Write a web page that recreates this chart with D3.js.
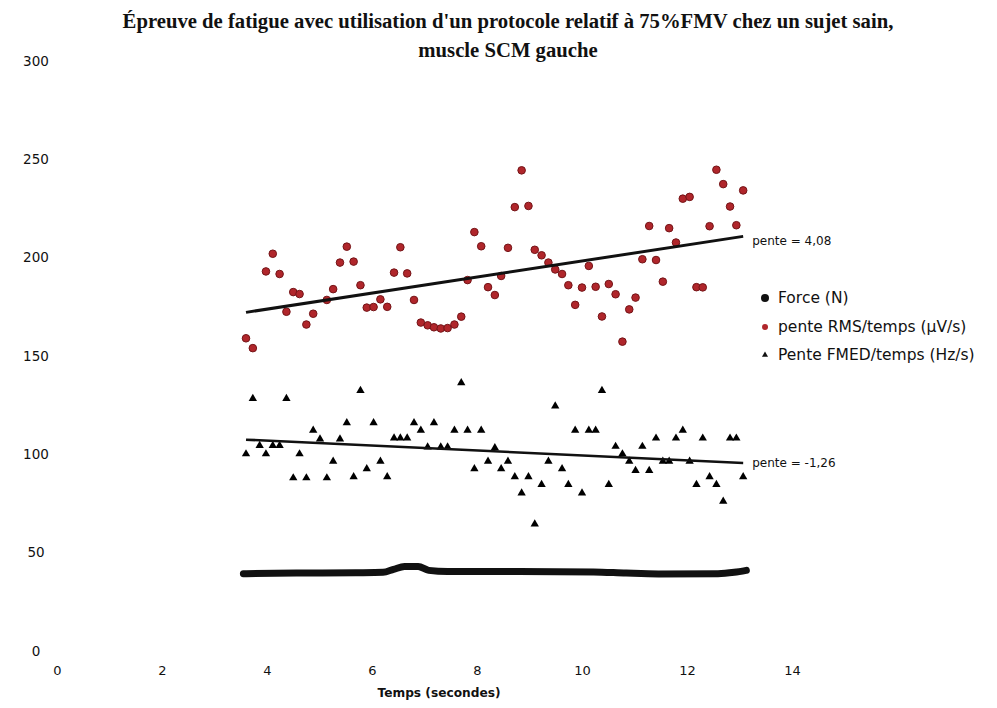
<!DOCTYPE html>
<html>
<head>
<meta charset="utf-8">
<script src="https://cdn.jsdelivr.net/npm/d3@7"></script>
<style>
  body { margin: 0; background: #fff; }
  text { font-family: "DejaVu Sans", Arial, sans-serif; fill: #111; }
</style>
</head>
<body>
<script>
// chart size, same as the picture
var width = 997
var height = 708

// time stamps (s), shared by the two slope series
var temps = [3.60, 3.73, 3.86, 3.98, 4.11, 4.24, 4.37, 4.50, 4.62, 4.75,
             4.88, 5.01, 5.14, 5.26, 5.39, 5.52, 5.65, 5.78, 5.90, 6.03,
             6.16, 6.29, 6.42, 6.54, 6.67, 6.80, 6.93, 7.06, 7.18, 7.31,
             7.44, 7.57, 7.70, 7.82, 7.95, 8.08, 8.21, 8.34, 8.46, 8.59,
             8.72, 8.85, 8.98, 9.10, 9.23, 9.36, 9.49, 9.62, 9.74, 9.87,
             10.00, 10.13, 10.26, 10.38, 10.51, 10.64, 10.77, 10.90, 11.02, 11.15,
             11.28, 11.41, 11.54, 11.66, 11.79, 11.92, 12.05, 12.18, 12.30, 12.43,
             12.56, 12.69, 12.82, 12.94, 13.07]

// pente RMS/temps (µV/s) - null where no dot is visible
var penteRMS = [159, 154, null, 193, 202, 191.7, 172.5, 182.5, 181.5, 166,
                171.5, null, 178.5, 184, 197.5, 205.6, 198, 186, 174.6, 174.9,
                178.8, 175, 192.4, 205.3, 192, 178.5, 167, 165.6, 164.6, 164,
                164.2, 166, 170, 188.6, 213, 205.8, 185, 181, 190.7, 205,
                225.7, 244.4, 226.3, 204, 201.2, 197.5, 194, 191.7, 186, 176,
                184.8, 195.8, 185.2, 170.1, 186.6, 181.4, 157.3, 173.7, 179.7, 199.2,
                216.1, 198.8, 187.8, 215, 207.7, 230, 230.9, 185, 184.9, 216,
                244.7, 237.4, 226, 216.5, 234.2]

// Pente FMED/temps (Hz/s)
var penteFMED = [100.2, 128.4, 104.4, 100.2, 104.4, 104.4, 128.4, 88, 100.2, 88,
                 112.2, 107.8, 88, 96.4, 107.8, 116, 88.6, 132.4, 92.6, 116,
                 96.4, 88.6, 108.3, 108.3, 108.3, 116, 112.2, 103.7, 116, 103.7,
                 103.7, 112.2, 136.4, 112.2, 92.6, 112.2, 96.4, 103.3, 92.6, 96.4,
                 88.6, 80.3, 88.6, 64.5, 84.6, 96.4, 124.5, 92.6, 84.6, 112.2,
                 80.3, 112.2, 112.2, 132.4, 84.6, 104, 100.2, 96.4, 91.7, 104,
                 91.7, 108.2, 96.4, 96.4, 108.2, 112.2, 96.4, 84.6, 108.2, 88.6,
                 84.6, 76.1, 108.2, 108.2, 88.6]

// Force (N): the dots are so dense they read as a thick line
var forceTemps = [3.55, 4.56, 5.69, 6.21, 6.41, 6.62, 6.88, 7.08, 7.44, 8.68, 10.22, 10.84, 11.46, 12.59, 12.9, 13.13]
var forceN     = [39.3, 39.6, 39.8, 40.0, 41.5, 43.0, 43.0, 41.0, 40.4, 40.4, 40.2, 39.6, 39.2, 39.3, 40.0, 41.0]

// linear trendlines
var trendPente = [4.08, -1.26]
var trendOrigine = [157.5, 112.0]
var trendLabels = ["pente = 4,08", "pente = -1,26"]

var xTicks = [0, 2, 4, 6, 8, 10, 12, 14]
var yTicks = [0, 50, 100, 150, 200, 250, 300]
var legendLabels = ["Force (N)", "pente RMS/temps (\u00b5V/s)", "Pente FMED/temps (Hz/s)"]

var svg = d3.select("body")
    .append("svg")
    .attr("width", width)
    .attr("height", height)

var x = d3.scaleLinear().domain([0, 14]).range([57, 792])
var y = d3.scaleLinear().domain([0, 300]).range([651, 61])

// title, two lines
var title = svg.append("text")
    .attr("text-anchor", "middle")
    .style("font-family", "'Liberation Serif', 'Times New Roman', serif")
    .style("font-weight", "bold")
    .style("font-size", "20.7px")
title.append("tspan").attr("x", 508).attr("y", 28)
    .text("\u00c9preuve de fatigue avec utilisation d'un protocole relatif \u00e0 75%FMV chez un sujet sain,")
title.append("tspan").attr("x", 508).attr("y", 57)
    .text("muscle SCM gauche")

// axes, no lines, labels only
var xAxis = svg.append("g")
    .attr("transform", "translate(0,651)")
    .call(d3.axisBottom(x).tickValues(xTicks).tickSize(0).tickPadding(15))
xAxis.select(".domain").remove()
xAxis.selectAll("text").style("font-size", "13px").style("font-family", "'DejaVu Sans', Arial, sans-serif")

var yAxis = svg.append("g")
    .attr("transform", "translate(53,0)")
    .call(d3.axisLeft(y).tickValues(yTicks).tickSize(0))
yAxis.select(".domain").remove()
yAxis.selectAll("text")
    .attr("x", -17)
    .attr("text-anchor", "middle")
    .style("font-size", "13.5px")
    .style("font-family", "'DejaVu Sans', Arial, sans-serif")

svg.append("text")
    .attr("x", 439)
    .attr("y", 697)
    .attr("text-anchor", "middle")
    .style("font-size", "12.2px")
    .style("font-weight", "bold")
    .text("Temps (secondes)")

// force line
var forcePts = forceTemps.map(function(t, i) { return [t, forceN[i]] })
svg.append("path")
    .attr("d", d3.line().x(function(d) { return x(d[0]) }).y(function(d) { return y(d[1]) }).curve(d3.curveMonotoneX)(forcePts))
    .attr("fill", "none")
    .attr("stroke", "#111")
    .attr("stroke-width", 7)
    .attr("stroke-linecap", "round")

// FMED triangles
var tri = d3.symbol().type(d3.symbolTriangle).size(30)
svg.selectAll(".fmed")
    .data(penteFMED)
    .enter()
    .append("path")
    .attr("class", "fmed")
    .attr("d", tri)
    .attr("transform", function(d, i) { return "translate(" + x(temps[i]) + "," + y(d) + ")" })
    .attr("fill", "#000")

// RMS dots
var rmsPts = []
for (var i = 0; i < temps.length; i++) {
    if (penteRMS[i] != null) rmsPts.push([temps[i], penteRMS[i]])
}
svg.selectAll(".rms")
    .data(rmsPts)
    .enter()
    .append("circle")
    .attr("class", "rms")
    .attr("cx", function(d) { return x(d[0]) })
    .attr("cy", function(d) { return y(d[1]) })
    .attr("r", 3.8)
    .attr("fill", "#b0262b")
    .attr("stroke", "#741417")
    .attr("stroke-width", 1)

// trendlines and their labels
var t0 = temps[0], t1 = temps[temps.length - 1]
var trendWidths = [3, 2.5]
var labelDy = [9, 4]
trendPente.forEach(function(p, k) {
    var y0 = trendOrigine[k] + p * t0
    var y1 = trendOrigine[k] + p * t1
    svg.append("line")
        .attr("x1", x(t0)).attr("y1", y(y0))
        .attr("x2", x(t1)).attr("y2", y(y1))
        .attr("stroke", "#111")
        .attr("stroke-width", trendWidths[k])
    svg.append("text")
        .attr("x", x(t1) + 9)
        .attr("y", y(y1) + labelDy[k])
        .style("font-size", "12px")
        .text(trendLabels[k])
})

// legend
var legY = [298, 327, 355]
var leg = svg.append("g")
legendLabels.forEach(function(lab, k) {
    if (k == 0) {
        leg.append("circle").attr("cx", 765).attr("cy", legY[k]).attr("r", 4).attr("fill", "#111")
    } else if (k == 1) {
        leg.append("circle").attr("cx", 765).attr("cy", legY[k]).attr("r", 3).attr("fill", "#b0262b")
    } else {
        leg.append("path").attr("d", d3.symbol().type(d3.symbolTriangle).size(16))
            .attr("transform", "translate(765," + legY[k] + ")").attr("fill", "#111")
    }
    leg.append("text")
        .attr("x", 778)
        .attr("y", legY[k] + 5)
        .style("font-size", "15.5px")
        .text(lab)
})
</script>
</body>
</html>
